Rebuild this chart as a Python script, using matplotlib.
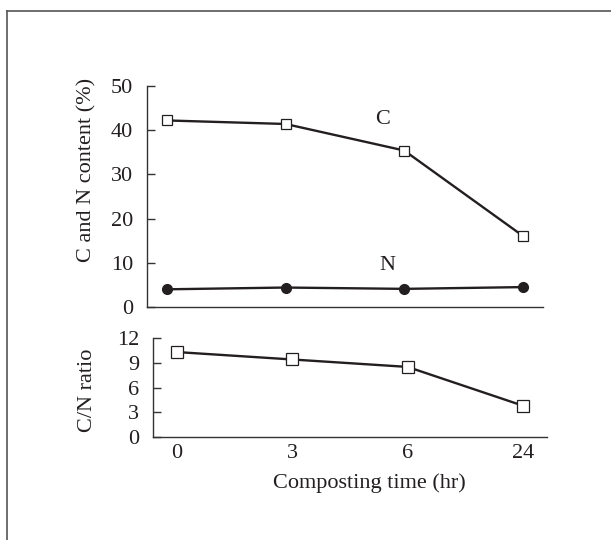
import numpy as np
import matplotlib
matplotlib.use("Agg")
import matplotlib.pyplot as plt
from matplotlib.lines import Line2D

plt.rcParams['font.family'] = ['Liberation Serif', 'DejaVu Serif']
plt.rcParams['font.size'] = 16

# data
times = ['0', '3', '6', '24']
carbon = [42.2, 41.4, 35.4, 16.1]
nitrogen = [4.0, 4.4, 4.1, 4.5]
cn_ratio = [10.3, 9.4, 8.5, 3.8]

ink = '#231f20'
x = np.arange(len(times))

fig = plt.figure(figsize=(6.11, 5.40), dpi=100)

# border (top and left only, as in the scanned figure)
fig.add_artist(Line2D([7/611, 1], [1-11/540, 1-11/540], color='#555555', lw=1.2))
fig.add_artist(Line2D([7/611, 7/611], [0, 1-11/540], color='#555555', lw=1.2))

# top panel: C and N content
ax1 = fig.add_axes([0.2406, 0.4315, 0.648, 0.4093])
ax1.plot(x, carbon, '-s', color=ink, lw=1.7, ms=7.5, mfc='white', mec=ink, mew=0.9)
ax1.plot(x, nitrogen, '-o', color=ink, lw=1.7, ms=7, mfc=ink, mec=ink)
ax1.set_xlim(-0.168, 3.17)
ax1.set_ylim(0, 50)
ax1.set_yticks([0, 10, 20, 30, 40, 50])
ax1.set_xticks([])
ax1.text(1.82, 42.4, 'C', ha='center', va='center', color=ink)
ax1.text(1.86, 9.4, 'N', ha='center', va='center', color=ink)

# bottom panel: C/N ratio
ax2 = fig.add_axes([0.2504, 0.1907, 0.645, 0.1833])
ax2.plot(x, cn_ratio, '-s', color=ink, lw=1.7, ms=8, mfc='white', mec=ink, mew=0.9)
ax2.set_xlim(-0.208, 3.21)
ax2.set_ylim(0, 12)
ax2.set_yticks([0, 3, 6, 9, 12])
ax2.set_xticks(x)
ax2.set_xticklabels(times)

for ax in (ax1, ax2):
    for s in ('top', 'right'):
        ax.spines[s].set_visible(False)
    for s in ('left', 'bottom'):
        ax.spines[s].set_color('#333333')
        ax.spines[s].set_linewidth(1.0)
    ax.tick_params(axis='y', direction='in', length=6, width=1.0, pad=10,
                   colors='#333333', labelcolor=ink)
    ax.tick_params(axis='x', length=0, pad=5, labelcolor=ink)

fig.text(87/611, 1-170/540, 'C and N content (%)', rotation=90,
         ha='center', va='center', color=ink)
fig.text(87/611, 1-390/540, 'C/N ratio', rotation=90,
         ha='center', va='center', color=ink)
fig.text(369/611, 1-483/540, 'Composting time (hr)', ha='center', va='center', color=ink)

fig.savefig('out.png', dpi=100)
